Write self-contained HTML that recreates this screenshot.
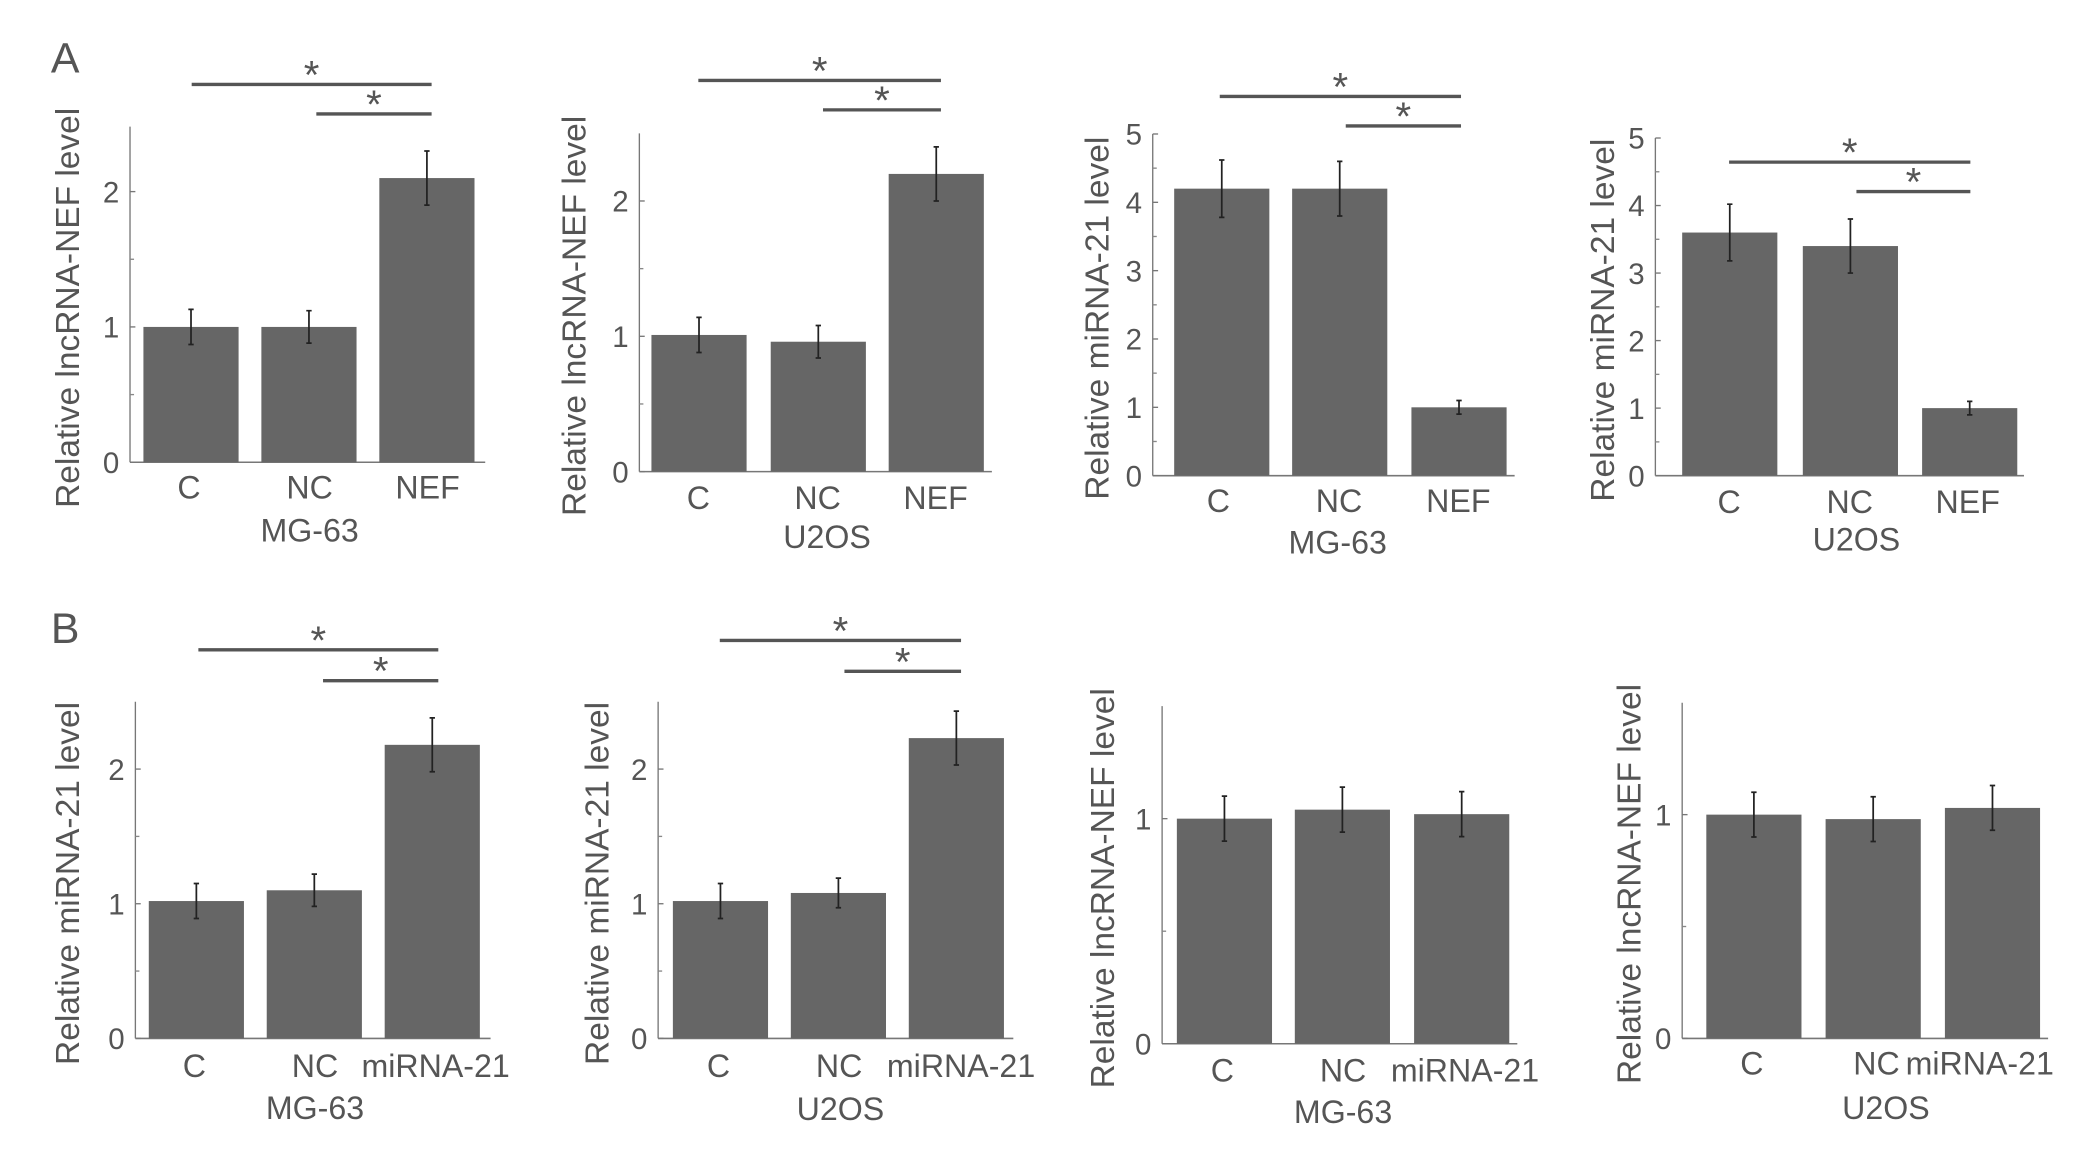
<!DOCTYPE html>
<html><head><meta charset="utf-8"><style>
html,body{margin:0;padding:0;background:#fff;}
svg{display:block;}
text{font-family:"Liberation Sans",sans-serif;fill:#555;}
</style></head><body>
<svg id="fig" width="2091" height="1163" viewBox="0 0 1560 868" preserveAspectRatio="none" xmlns="http://www.w3.org/2000/svg">
<text x="38" y="54" font-size="32">A</text>
<text x="38" y="480" font-size="32">B</text>
</svg>
<script>
// Data arrays per panel
const catsA = ["C","NC","NEF"];
const catsB = ["C","NC","miRNA-21"];
const valsA1 = [1.0, 1.0, 2.1];
const errsA1 = [0.13, 0.12, 0.2];
const valsA2 = [1.01, 0.96, 2.2];
const errsA2 = [0.13, 0.12, 0.2];
const valsA3 = [4.2, 4.2, 1.0];
const errsA3 = [0.42, 0.4, 0.1];
const valsA4 = [3.6, 3.4, 1.0];
const errsA4 = [0.42, 0.4, 0.1];
const valsB1 = [1.02, 1.1, 2.18];
const errsB1 = [0.13, 0.12, 0.2];
const valsB2 = [1.02, 1.08, 2.23];
const errsB2 = [0.13, 0.11, 0.2];
const valsB3 = [1.0, 1.04, 1.02];
const errsB3 = [0.1, 0.1, 0.1];
const valsB4 = [1.0, 0.98, 1.03];
const errsB4 = [0.1, 0.1, 0.1];
const ticks2 = ["0","1","2"];
const ticks5 = ["0","1","2","3","4","5"];
const ticks1 = ["0","1"];

const panels = [
 {id:"a1",cats:catsA,vals:valsA1,errs:errsA1,ticks:ticks2,ymax:2.48,ax:97,y0:345,unit:101,barX:[107,195,283],bw:71,xEnd:362,labY:363,labX:[141,231,319],cell:"MG-63",cellX:231,cellY:395,title:"Relative lncRNA-NEF level",titleX:50,sig:[[143,322,63],[236,322,85]]},
 {id:"a2",cats:catsA,vals:valsA2,errs:errsA2,ticks:ticks2,ymax:2.5,ax:477,y0:352,unit:101,barX:[486,575,663],bw:71,xEnd:740,labY:371,labX:[521,610,698],cell:"U2OS",cellX:617,cellY:400,title:"Relative lncRNA-NEF level",titleX:428,sig:[[521,702,60],[614,702,82]]},
 {id:"a3",cats:catsA,vals:valsA3,errs:errsA3,ticks:ticks5,ymax:5,ax:860,y0:355,unit:51,barX:[876,964,1053],bw:71,xEnd:1130,labY:373,labX:[909,999,1088],cell:"MG-63",cellX:998,cellY:404,title:"Relative miRNA-21 level",titleX:818,sig:[[910,1090,72],[1004,1090,94]]},
 {id:"a4",cats:catsA,vals:valsA4,errs:errsA4,ticks:ticks5,ymax:5,ax:1235,y0:355,unit:50.4,barX:[1255,1345,1434],bw:71,xEnd:1510,labY:374,labX:[1290,1380,1468],cell:"U2OS",cellX:1385,cellY:402,title:"Relative miRNA-21 level",titleX:1195,sig:[[1290,1470,121],[1385,1470,143]]},
 {id:"b1",cats:catsB,vals:valsB1,errs:errsB1,ticks:ticks2,ymax:2.5,ax:101,y0:775,unit:100.5,barX:[111,199,287],bw:71,xEnd:366,labY:795,labX:[145,235,325],cell:"MG-63",cellX:235,cellY:826,title:"Relative miRNA-21 level",titleX:50,sig:[[148,327,485],[241,327,508]]},
 {id:"b2",cats:catsB,vals:valsB2,errs:errsB2,ticks:ticks2,ymax:2.5,ax:491,y0:775,unit:100.5,barX:[502,590,678],bw:71,xEnd:756,labY:795,labX:[536,626,717],cell:"U2OS",cellX:627,cellY:827,title:"Relative miRNA-21 level",titleX:445,sig:[[537,717,478],[630,717,501]]},
 {id:"b3",cats:catsB,vals:valsB3,errs:errsB3,ticks:ticks1,ymax:1.5,ax:867,y0:779,unit:168,barX:[878,966,1055],bw:71,xEnd:1132,labY:798,labX:[912,1002,1093],cell:"MG-63",cellX:1002,cellY:829,title:"Relative lncRNA-NEF level",titleX:822,sig:[]},
 {id:"b4",cats:catsB,vals:valsB4,errs:errsB4,ticks:ticks1,ymax:1.5,ax:1255,y0:775,unit:167,barX:[1273,1362,1451],bw:71,xEnd:1528,labY:793,labX:[1307,1400,1477],cell:"U2OS",cellX:1407,cellY:826,title:"Relative lncRNA-NEF level",titleX:1215,sig:[]}
];
const NS="http://www.w3.org/2000/svg";
const svg=document.getElementById("fig");
function mk(tag,attrs,parent){const e=document.createElementNS(NS,tag);for(const k in attrs)e.setAttribute(k,attrs[k]);(parent||svg).appendChild(e);return e;}
panels.forEach(p=>{
  const g=mk("g",{});
  
  
  const y=v=>p.y0-v*p.unit;
  const yAx=mk("line",{x1:p.ax,x2:p.ax,y1:y(p.ymax),y2:p.y0,stroke:"#777","stroke-width":1},g);
  
  
  const xAx=mk("line",{x1:p.ax,x2:p.xEnd,y1:p.y0,y2:p.y0,stroke:"#777","stroke-width":1.2},g);
  
  
  for(let v=0.5;v<p.ymax;v+=1){mk("line",{x1:p.ax,x2:p.ax+3,y1:y(v),y2:y(v),stroke:"#888"},g);}
  p.ticks.forEach(t=>{
    const tv=parseFloat(t);
    mk("line",{x1:p.ax,x2:p.ax+4,y1:y(tv),y2:y(tv),stroke:"#777"},g);
    const tx=mk("text",{x:p.ax-8,y:y(tv)+8,"font-size":22,"text-anchor":"end"},g);
    tx.textContent=t;
    
    
  });
  p.vals.forEach((v,i)=>{
    const r=mk("rect",{x:p.barX[i],y:y(v),width:p.bw,height:p.y0-y(v),fill:"#666"},g);
    
    
    const cx=p.barX[i]+p.bw/2;
    const eb=mk("path",{d:`M${cx},${y(v+p.errs[i])}V${y(v-p.errs[i])}M${cx-2},${y(v+p.errs[i])}h4M${cx-2},${y(v-p.errs[i])}h4`,stroke:"#222","stroke-width":1.3,fill:"none"},g);
    
    
    const lb=mk("text",{x:p.labX[i],y:p.labY+9,"font-size":24,"text-anchor":"middle"},g);
    lb.textContent=p.cats[i];
    
    
  });
  const cl=mk("text",{x:p.cellX,y:p.cellY+9,"font-size":24,"text-anchor":"middle"},g);
  cl.textContent=p.cell;
  
  
  const yc=(y(p.ymax)+p.y0)/2+10;
  const tt=mk("text",{x:0,y:0,"font-size":25,"text-anchor":"middle",transform:`translate(${p.titleX+9},${yc}) rotate(-90)`},g);
  tt.textContent=p.title;
  
  
  p.sig.forEach(s=>{
    const ln=mk("line",{x1:s[0],x2:s[1],y1:s[2],y2:s[2],stroke:"#555","stroke-width":2.5},g);
    
    
    const st=mk("text",{x:(s[0]+s[1])/2,y:s[2]+3,"font-size":30,"text-anchor":"middle",fill:"#222"},g);
    st.textContent="*";
    
    
  });
});
</script>
</body></html>
